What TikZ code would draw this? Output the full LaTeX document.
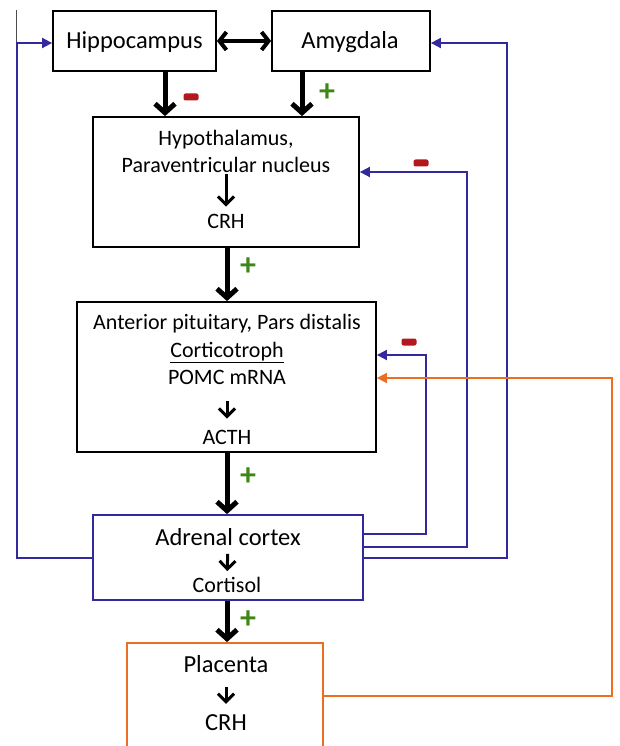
\documentclass[tikz,border=0pt]{standalone}
\usepackage{fontspec}
\setmainfont{Carlito}
\usetikzlibrary{arrows.meta}
\definecolor{fbblue}{RGB}{52,40,158}
\definecolor{plaorange}{RGB}{235,110,35}
\definecolor{minusred}{RGB}{178,24,30}
\definecolor{plusgreen}{RGB}{62,135,22}

\begin{document}
\begin{tikzpicture}[x=1pt,y=1pt,
    box/.style={draw,line width=1.8pt,inner sep=0pt},
    title/.style={font=\fontsize{24.5}{28}\selectfont,inner sep=0pt},
    txt/.style={font=\fontsize{22}{27.5}\selectfont,align=center,inner sep=0pt},
    bigarrow/.style={line width=5pt,-{Straight Barb[length=9pt,width=20pt]}},
    smallarrow/.style={line width=3pt,-{Straight Barb[length=8pt,width=16pt,line width=3pt]}},
    fb/.style={draw=fbblue,line width=1.8pt,-{Triangle[length=10pt,width=10pt]}},
    plus/.style={text=plusgreen,font=\fontsize{32}{32}\selectfont\bfseries,inner sep=0pt},
    minus/.style={fill=minusred,rounded corners=2pt,minimum width=15pt,minimum height=7pt,inner sep=0pt}]
    \useasboundingbox (0,0) rectangle (619,-746);

    \draw[black!70,line width=0.8pt] (16,-10) -- (16,-380);

    \node[box,minimum width=163,minimum height=60] (hip) at (134.5,-41) {};
    \node[title] (hiptext) at (134.5,-42) {Hippocampus};
    \node[box,minimum width=158,minimum height=60] (amy) at (351,-41) {};
    \node[title] (amytext) at (350,-42) {Amygdala};

    \node[box,minimum width=266,minimum height=130] (hyp) at (226,-182) {};
    \node[txt] (hyptext) at (226,-151.5) {Hypothalamus,\\Paraventricular nucleus};
    \node[txt] (hypcrh) at (226,-221) {CRH};

    \node[box,minimum width=299,minimum height=150] (pit) at (226.5,-377) {};
    \node[txt] (pittext) at (227,-349.5) {Anterior pituitary, Pars distalis\\\underline{Corticotroph}\\POMC mRNA};
    \node[txt] (acth) at (227,-437) {ACTH};

    \node[box,draw=fbblue,minimum width=270,minimum height=85] (adr) at (228,-557.5) {};
    \node[title] (adrtext) at (228,-537) {Adrenal cortex};
    \node[txt] (cortisol) at (227,-585) {Cortisol};

    \node[box,draw=plaorange,minimum width=196,minimum height=120] (pla) at (225,-703) {};
    \node[title] (platext) at (226,-664) {Placenta};
    \node[title] (placrh) at (226,-723) {CRH};

    \draw[smallarrow,shorten <=1pt,shorten >=7pt] (hyptext) -- (hypcrh);
    \draw[smallarrow,shorten <=16pt,shorten >=11pt] (pittext) -- (acth);
    \draw[smallarrow,shorten <=8pt,shorten >=6pt] (adrtext) -- (cortisol);
    \draw[smallarrow,shorten <=14pt,shorten >=11pt] (platext) -- (placrh);

    \draw[line width=4pt,{Straight Barb[length=7pt,width=18pt]}-{Straight Barb[length=7pt,width=18pt]}] (hip) -- (amy);
    \draw[bigarrow] ([xshift=30.5]hip.south) -- ([xshift=30.5]hip.south |- hyp.north);
    \draw[bigarrow] ([xshift=-49]amy.south) -- ([xshift=-49]amy.south |- hyp.north);
    \draw[bigarrow] ([xshift=1]hyp.south) -- ([xshift=1]hyp.south |- pit.north);
    \draw[bigarrow] ([xshift=0.5]pit.south) -- ([xshift=0.5]pit.south |- adr.north);
    \draw[bigarrow] ([xshift=-1]adr.south) -- ([xshift=-1]adr.south |- pla.north);

    \node[minus] (m1) at (191,-97) {};
    \node[plus] (p1) at (327,-93) {+};
    \node[plus] (p2) at (248,-267) {+};
    \node[plus] (p3) at (248,-477) {+};
    \node[plus] (p4) at (248,-620) {+};
    \node[minus] (m2) at (421,-163) {};
    \node[minus] (m3) at (409,-342) {};

    \coordinate (fbpit) at (426,-355);
    \coordinate (fbhyp) at (467,-172);
    \coordinate (fbamy) at (507,-43);
    \coordinate (fbhip) at (17,-43);
    \coordinate (plapit) at (612,-378);

    \draw[fb] ([yshift=23.5]adr.east) -| (fbpit) -- (pit.east |- fbpit);
    \draw[fb] ([yshift=10.5]adr.east) -| (fbhyp) -- (hyp.east |- fbhyp);
    \draw[fb] ([yshift=-0.5]adr.east) -| (fbamy) -- (amy.east |- fbamy);
    \draw[fb] ([yshift=-0.5]adr.west) -| (fbhip) -- (hip.west |- fbhip);
    \draw[draw=plaorange,line width=1.8pt,-{Triangle[length=10pt,width=10pt]}] (pla.east |- 0,-696) -| (plapit) -- (pit.east |- plapit);
\end{tikzpicture}
\end{document}
